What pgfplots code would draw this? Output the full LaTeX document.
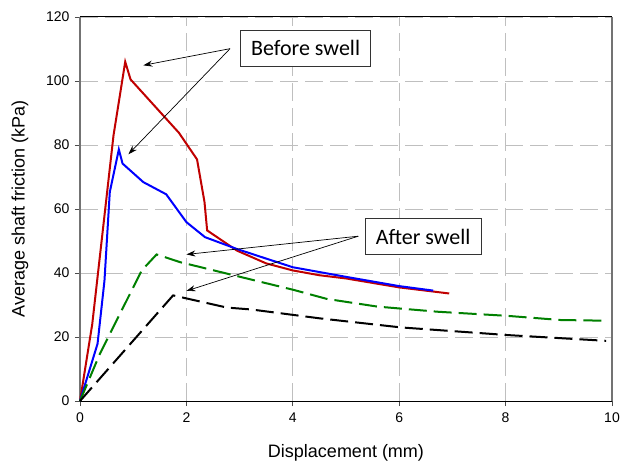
\documentclass[border=0pt]{standalone}
\usepackage{pgfplots}
\pgfplotsset{compat=1.18}
\usepackage{fontspec}
\setmainfont{Liberation Sans}
\newfontfamily\calibri{Carlito}
\usetikzlibrary{arrows.meta}

\definecolor{cred}{RGB}{192,0,0}
\definecolor{cblue}{RGB}{0,0,255}
\definecolor{cgreen}{RGB}{0,128,0}

\begin{document}
\begin{tikzpicture}
\begin{axis}[
    name=ax,
    scale only axis,
    width=532pt, height=384pt,
    xmin=0, xmax=10, ymin=0, ymax=120,
    xtick={0,2,...,10}, ytick={0,20,...,120},
    xtick pos=bottom, ytick pos=left,
    tick align=outside, major tick length=5pt,
    tick style={black!70, line width=0.8pt},
    separate axis lines,
    x axis line style={black, line width=1pt},
    y axis line style={black!55, line width=1.2pt},
    grid=major,
    major grid style={black!25, line width=0.8pt, dash pattern=on 18pt off 7pt},
    /pgf/number format/assume math mode=true,
    ticklabel style={font=\fontsize{14}{14}\selectfont},
    xticklabel style={yshift=-3pt},
    yticklabel style={xshift=-2pt},
    label style={font=\fontsize{18}{18}\selectfont},
    xlabel={Displacement (mm)},
    ylabel={Average shaft friction (kPa)},
    xlabel style={at={(axis description cs:0.5,-0.135)}, anchor=center},
    ylabel style={at={(axis description cs:-0.113,0.5)}, anchor=center},
    clip=false,
]
% before swell
\addplot[cred, line width=2pt] coordinates {
(0,0) (0.23,24) (0.63,83) (0.85,106) (0.95,100.5) (1.86,83.8) (2.2,75.5)
(2.34,62.2) (2.39,53.3) (2.95,47) (3.5,43) (4,40.8) (4.5,39.3) (5,38.3)
(6,35.5) (6.94,33.6)};
\addplot[cblue, line width=2pt] coordinates {
(0,0) (0.33,17.9) (0.46,37.6) (0.56,65.3) (0.73,78.6) (0.80,74.2) (1.19,68.4)
(1.62,64.6) (2.0,55.9) (2.35,51.2) (2.95,47.5) (3.5,44.5) (4,41.8) (5,38.8)
(6,35.9) (6.64,34.5)};
% after swell
\addplot[cgreen, line width=2pt, dash pattern=on 18pt off 7pt] coordinates {
(0,0) (0.375,14.8) (1.16,40.8) (1.44,45.8) (1.88,43.4) (3.28,37.7) (4.02,34.7)
(4.64,31.9) (5.59,29.5) (6.72,27.9) (8.04,26.6) (9.04,25.3) (9.86,25.1)};
\addplot[black, line width=2pt, dash pattern=on 18pt off 7pt] coordinates {
(0,0) (1.75,33) (2.76,29.2) (3.22,28.6) (4.52,25.8) (6.03,23) (8.04,20.6)
(9.89,18.8)};

% annotations
\draw[line width=0.7pt, -{Stealth[length=9pt,width=6pt]}] (axis cs:2.82,110.1) -- (axis cs:1.19,104.9);
\draw[line width=0.7pt, -{Stealth[length=9pt,width=6pt]}] (axis cs:2.82,110.1) -- (axis cs:0.91,77.1);
\draw[line width=0.7pt, -{Stealth[length=9pt,width=6pt]}] (axis cs:5.23,51.5) -- (axis cs:2.0,45.8);
\draw[line width=0.7pt, -{Stealth[length=9pt,width=6pt]}] (axis cs:5.23,51.5) -- (axis cs:2.0,34.4);
\node[draw=black!80, line width=0.8pt, fill=white, minimum width=130pt, minimum height=36pt,
      inner sep=0pt, font=\calibri\fontsize{22}{22}\selectfont]
      at (axis cs:4.24,110.2) {Before swell};
\node[draw=black!80, line width=0.8pt, fill=white, minimum width=116pt, minimum height=36pt,
      inner sep=0pt, font=\calibri\fontsize{22}{22}\selectfont]
      at (axis cs:6.45,51.4) {After swell};
\end{axis}
\pgfresetboundingbox
\path ([xshift=-80pt,yshift=-62pt]ax.south west) rectangle ([xshift=9pt,yshift=17pt]ax.north east);
\end{tikzpicture}
\end{document}
